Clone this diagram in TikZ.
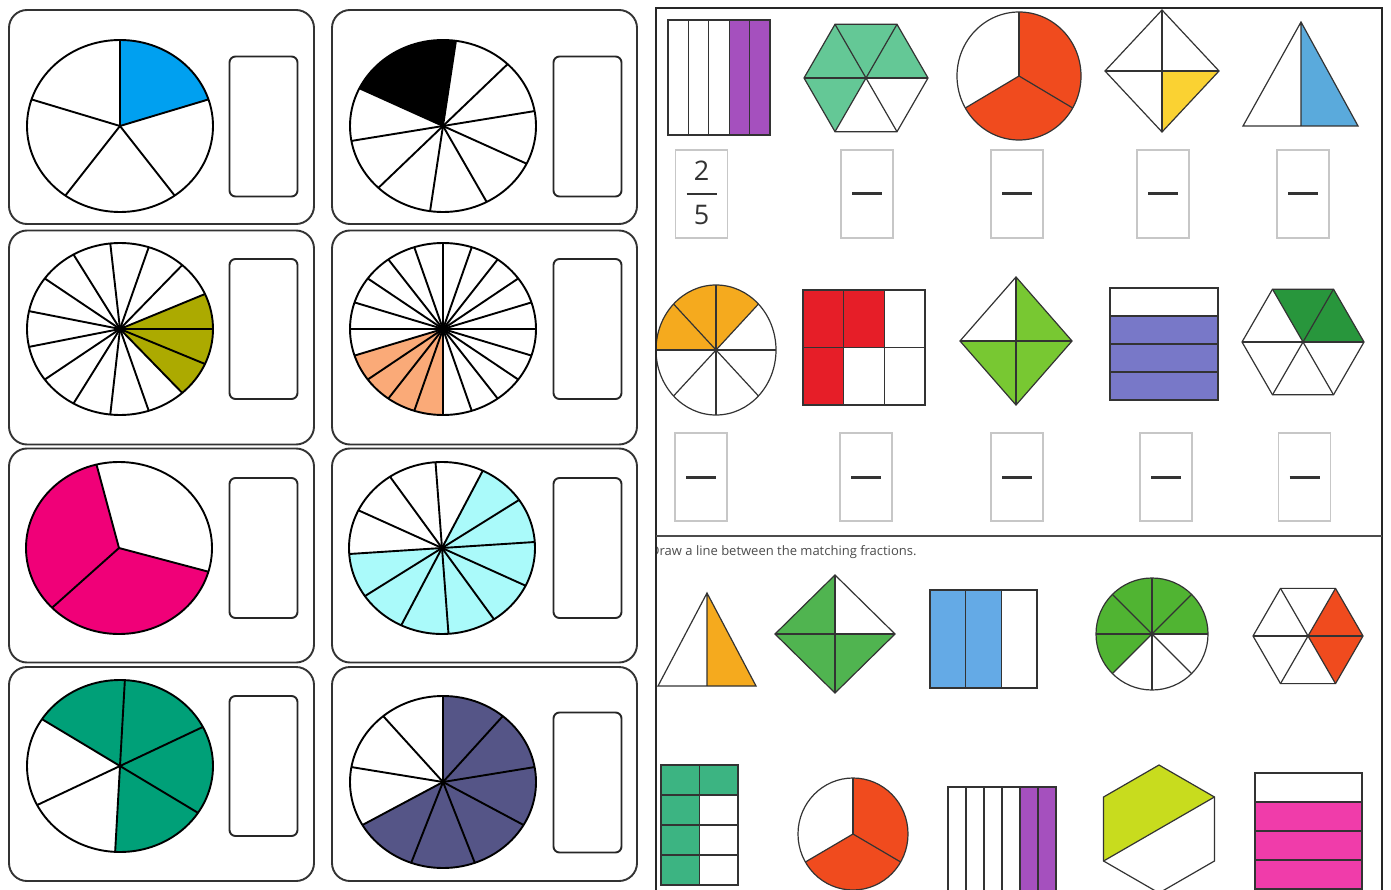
\documentclass[tikz,border=0pt]{standalone}
\usepackage{fontspec}
\setsansfont{Open Sans}
\usetikzlibrary{positioning}

\definecolor{pieblue}{RGB}{0,160,240}
\definecolor{pieolive}{RGB}{172,170,0}
\definecolor{piepeach}{RGB}{250,170,120}
\definecolor{piepink}{RGB}{240,0,120}
\definecolor{piecyan}{RGB}{170,250,250}
\definecolor{piegreen}{RGB}{0,160,120}
\definecolor{pienavy}{RGB}{85,85,135}
\definecolor{fpurple}{RGB}{165,80,190}
\definecolor{fteal}{RGB}{100,200,150}
\definecolor{fred}{RGB}{240,75,30}
\definecolor{fyellow}{RGB}{250,210,50}
\definecolor{fblue}{RGB}{90,170,220}
\definecolor{forange}{RGB}{245,170,30}
\definecolor{fcrimson}{RGB}{230,30,40}
\definecolor{flime}{RGB}{120,200,50}
\definecolor{fslate}{RGB}{120,120,200}
\definecolor{fforest}{RGB}{40,150,60}
\definecolor{fgreen}{RGB}{80,180,80}
\definecolor{fsky}{RGB}{100,170,230}
\definecolor{fleaf}{RGB}{80,180,50}
\definecolor{fmint}{RGB}{60,180,130}
\definecolor{fchart}{RGB}{200,220,30}
\definecolor{fpink}{RGB}{240,60,170}

\begin{document}
\begin{tikzpicture}[x=1pt, y=-1pt,
  card/.style={draw=black!80, line width=1.9pt, rounded corners=18pt, minimum width=305pt, minimum height=214pt},
  ansbox/.style={draw=black!85, line width=1.9pt, rounded corners=6pt, minimum width=68pt, minimum height=140pt},
  spoke/.style={draw=black, line width=1.9pt},
  shp/.style={draw=black!80, line width=1.2pt},
  slot/.style={draw=black!22, line width=1.3pt, minimum width=52pt, minimum height=88pt},
  bar/.style={draw=black!80, line width=3pt},
  digit/.style={font=\sffamily\fontsize{27}{27}\selectfont, text=black!80},
  note/.style={font=\sffamily\fontsize{13}{15}\selectfont, text=black!70, anchor=west, inner sep=0pt}
]
\useasboundingbox (0,0) rectangle (1391,890);
\fill[white] (0,0) rectangle (1391,890);

% cards with answer boxes
\foreach \c/\x/\y in {1/161.5/117, 2/484.5/117, 3/161.5/337.5, 4/484.5/337.5,
                      5/161.5/555.5, 6/484.5/555.5, 7/161.5/774, 8/484.5/774}
  \node[card] (card\c) at (\x,\y) {};
\foreach \c/\x/\y in {1/263.5/126.5, 2/587.5/126.5, 3/263.5/329, 4/587.5/329,
                      5/263.5/548, 6/587.5/548, 7/263.5/766, 8/587.5/782.5}
  \node[ansbox] (ans\c) at (\x,\y) {};

% pies: centre / parts / first shaded angle / shaded parts / colour
\foreach \cx/\cy/\n/\a/\k/\col in {120/126/5/18/1/pieblue, 443/126/10/82/2/black,
    120/329/15/-48/3/pieolive, 443/329/20/198/4/piepeach, 119/548/3/104/2/piepink,
    442/548/12/184/8/piecyan, 120/766/6/-93/4/piegreen, 443/782/9/-150/6/pienavy} {
  \fill[\col] (\cx,\cy) -- ++({93*cos(-(\a))},{86*sin(-(\a))})
    arc[start angle={-(\a)}, end angle={-(\a)-\k*360/\n}, x radius=93, y radius=86] -- cycle;
  \foreach \i in {1,...,\n}
    \draw[spoke] (\cx,\cy) -- ++({93*cos(-(\a)-\i*360/\n)},{86*sin(-(\a)-\i*360/\n)});
  \draw[spoke] (\cx,\cy) ellipse[x radius=93, y radius=86];
}

% worksheet
\begin{scope}
\clip (656,8) rectangle (1382,890);
% round shapes
\foreach \cx/\cy/\rx/\ry/\n/\a/\k/\col in {1019/76/62/64/3/-150/2/fred, 716/350/60/65/8/45/3/forange,
    1152/634/56/56/8/0/5/fleaf, 853/834/55/56/3/-150/2/fred} {
  \fill[\col] (\cx,\cy) -- ++({\rx*cos(-(\a))},{\ry*sin(-(\a))})
    arc[start angle={-(\a)}, end angle={-(\a)-\k*360/\n}, x radius=\rx, y radius=\ry] -- cycle;
  \foreach \i in {1,...,\n}
    \draw[shp] (\cx,\cy) -- ++({\rx*cos(-(\a)-\i*360/\n)},{\ry*sin(-(\a)-\i*360/\n)});
  \draw[shp] (\cx,\cy) ellipse[x radius=\rx, y radius=\ry];
}
% hexagons
\foreach \cx/\cy/\r/\sh/\col in {866/78/62/{0,60,120,180}/fteal, 1303/342/61/{0,60}/fforest,
    1308/636/55/{-60,0}/fred} {
  \foreach \t in \sh
    \fill[\col] (\cx,\cy) -- +({-(\t)}:\r) -- +({-(\t)-60}:\r) -- cycle;
  \foreach \t in {0,60,...,300}
    \draw[shp] (\cx,\cy) -- +(\t:\r);
  \draw[shp] (\cx,\cy) ++(0:\r) -- ++(120:\r) -- ++(180:\r) -- ++(240:\r) -- ++(300:\r) -- ++(0:\r) -- cycle;
}
% diamonds
\foreach \cx/\cy/\hw/\hh/\sh/\col in {1162/71/57/61/{270}/fyellow, 1016/341/56/64/{0,180,270}/flime,
    835/634/60/59/{90,180,270}/fgreen} {
  \foreach \t in \sh
    \fill[\col] (\cx,\cy) -- ({\cx+\hw*cos(\t)},{\cy-\hh*sin(\t)}) -- ({\cx+\hw*cos(\t+90)},{\cy-\hh*sin(\t+90)}) -- cycle;
  \draw[shp] ({\cx-\hw},\cy) -- ({\cx+\hw},\cy) (\cx,{\cy-\hh}) -- (\cx,{\cy+\hh});
  \draw[shp] ({\cx-\hw},\cy) -- (\cx,{\cy-\hh}) -- ({\cx+\hw},\cy) -- (\cx,{\cy+\hh}) -- cycle;
}
% triangles
\fill[fblue] (1301,22) -- (1358,126) -- (1301,126) -- cycle;
\draw[shp] (1301,22) -- (1301,126) (1301,22) -- (1358,126) -- (1243,126) -- cycle;
\fill[forange] (707,593) -- (756,686) -- (707,686) -- cycle;
\draw[shp] (707,593) -- (707,686) (707,593) -- (756,686) -- (658,686) -- cycle;
% strips and grids
\fill[fpurple] (728.8,20) rectangle (770,135);
\foreach \i in {1,...,4} \draw[shp] ({668+20.4*\i},20) -- ({668+20.4*\i},135);
\draw[shp] (668,20) rectangle (770,135);
\fill[fcrimson] (803,290) rectangle (884.3,347.5);
\fill[fcrimson] (803,347.5) rectangle (843.7,405);
\draw[shp] (843.7,290) -- (843.7,405) (884.3,290) -- (884.3,405) (803,347.5) -- (925,347.5) (803,290) rectangle (925,405);
\fill[fslate] (1110,316) rectangle (1218,400);
\draw[shp] (1110,316) -- (1218,316) (1110,344) -- (1218,344) (1110,372) -- (1218,372) (1110,288) rectangle (1218,400);
\fill[fsky] (930,590) rectangle (1001.3,688);
\draw[shp] (965.7,590) -- (965.7,688) (1001.3,590) -- (1001.3,688) (930,590) rectangle (1037,688);
\fill[fmint] (661,765) rectangle (699.5,885);
\fill[fmint] (699.5,765) rectangle (738,795);
\draw[shp] (699.5,765) -- (699.5,885) (661,795) -- (738,795) (661,825) -- (738,825) (661,855) -- (738,855) (661,765) rectangle (738,885);
\fill[fpurple] (1020,787) rectangle (1056,895);
\foreach \i in {1,...,5} \draw[shp] ({948+18*\i},787) -- ({948+18*\i},895);
\draw[shp] (948,787) rectangle (1056,895);
\fill[fpink] (1255,802) rectangle (1362,889);
\draw[shp] (1255,802) -- (1362,802) (1255,831) -- (1362,831) (1255,860) -- (1362,860) (1255,773) rectangle (1362,889);
% half hexagon
\coordinate (hx) at (1159,829);
\fill[fchart] (hx) +(-210:64) -- +(-150:64) -- +(-90:64) -- +(-30:64) -- cycle;
\draw[shp] (hx) +(-30:64) -- +(-210:64);
\draw[shp] (hx) ++(30:64) -- ++(150:64) -- ++(210:64) -- ++(270:64) -- ++(330:64) -- ++(30:64) -- cycle;
% answer slots
\foreach \s/\x/\y in {1/701.5/194, 2/867/194, 3/1017/194, 4/1163/194, 5/1303/194,
                      6/701/477, 7/866/477, 8/1017/477, 9/1166/477, 10/1304.5/477}
  \node[slot] (slot\s) at (\x,\y) {};
\foreach \s in {2,...,10}
  \draw[bar] ([xshift=-15pt]slot\s.center) -- ([xshift=15pt]slot\s.center);
\node[digit] (num) at (701.5,171) {2};
\node[digit] (den) at (701.5,215) {5};
\draw[bar, line width=1.8pt] ([xshift=-15pt]slot1.center) -- ([xshift=15pt]slot1.center);
\node[note] (task) at (650,552) {Draw a line between the matching fractions.};
\end{scope}
\draw[line width=1.8pt, black!85] (656,892) -- (656,8) -- (1382,8) -- (1382,892);
\draw[line width=2pt, black!70] (656,536) -- (1382,536);
\end{tikzpicture}
\end{document}
